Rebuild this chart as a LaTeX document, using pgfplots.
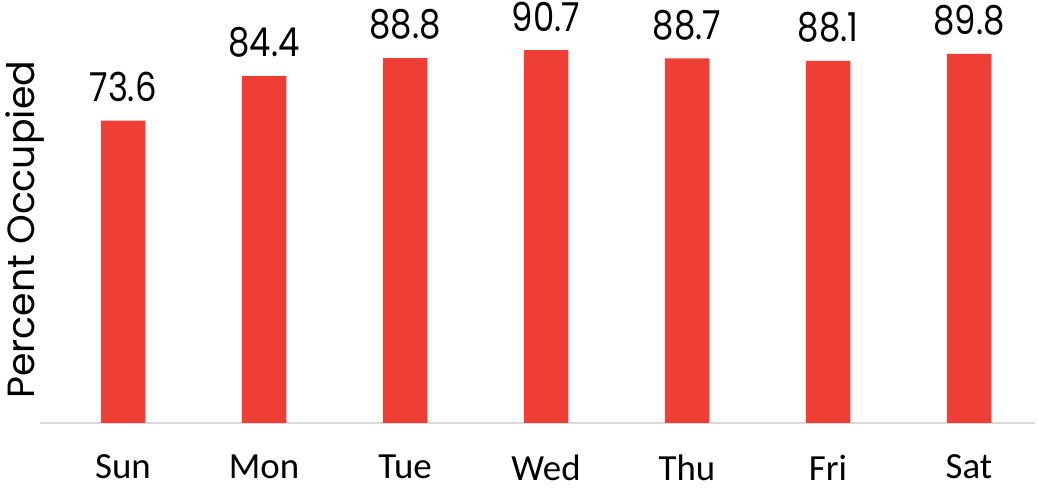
\documentclass[border=0pt]{standalone}
\usepackage{pgfplots}
\pgfplotsset{compat=1.18}
\usepackage{fontspec}
\setmainfont{Carlito}
\newfontfamily\numfont{Poppins}
\newfontfamily\valfont[FakeStretch=0.85]{Poppins}
\definecolor{barred}{HTML}{EF3E36}
\definecolor{axisgray}{HTML}{D9D9D9}
\begin{document}
\begin{tikzpicture}[x=1bp,y=1bp]
\begin{axis}[
  at={(40bp,65bp)}, anchor=south west,
  scale only axis,
  width=995bp, height=411bp,
  xmin=-0.589, xmax=6.468,
  ymin=0, ymax=100,
  axis x line*=bottom,
  axis y line*=left,
  y axis line style={draw=none},
  ytick=\empty,
  x axis line style={axisgray, line width=1.5bp, -},
  xtick=data,
  xticklabels={Sun,Mon,Tue,Wed,Thu,Fri,Sat},
  xtick style={draw=none},
  xticklabel style={font=\fontsize{37}{44}\selectfont, text=black, yshift=-24bp},
  ylabel={Percent Occupied},
  ylabel style={at={(axis description cs:-0.015,0.47)}, anchor=center, font=\numfont\fontsize{38}{46}\selectfont},
  ybar, bar width=44.5bp,
  nodes near coords,
  nodes near coords style={font=\valfont\fontsize{40}{48}\selectfont, text=black, yshift=15bp},
  point meta=explicit symbolic,
]
\addplot[fill=barred, draw=none] coordinates {
  (0,73.6) [73.6] (1,84.4) [84.4] (2,88.8) [88.8] (3,90.7) [90.7]
  (4,88.7) [88.7] (5,88.1) [88.1] (6,89.8) [89.8]
};
\end{axis}
\pgfresetboundingbox
\path (0,0) rectangle (1038bp,488bp);
\end{tikzpicture}
\end{document}
